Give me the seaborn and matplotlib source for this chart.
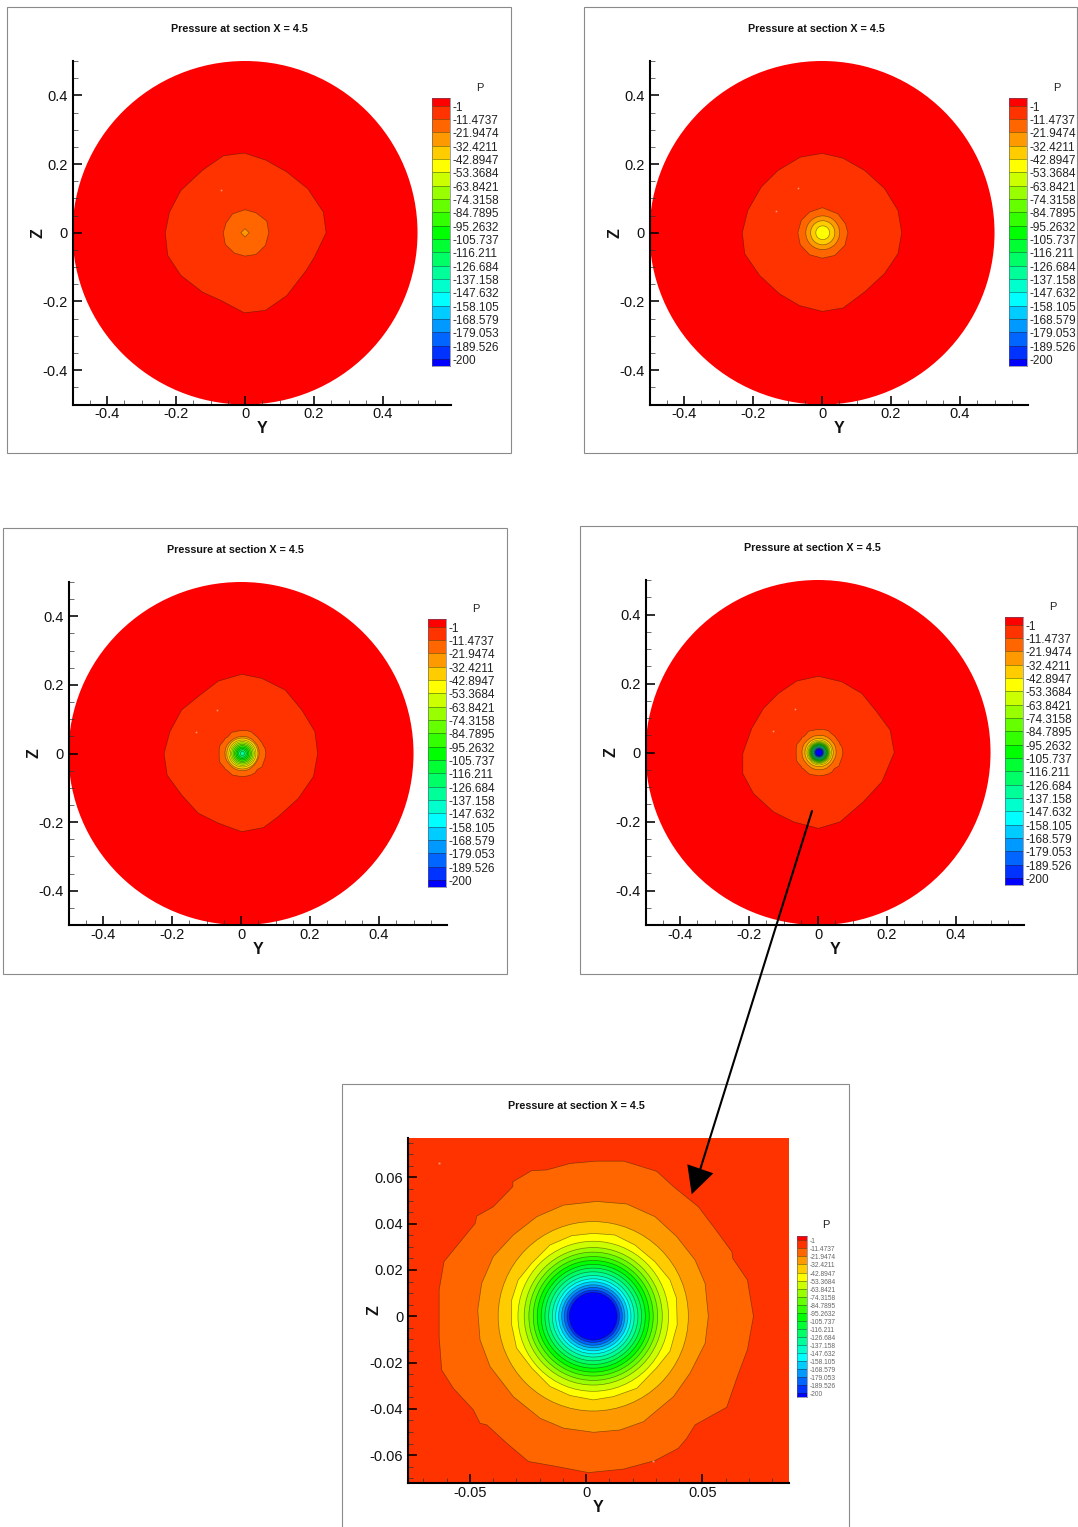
import matplotlib
matplotlib.use("Agg")
import matplotlib.pyplot as plt
from matplotlib.colors import ListedColormap
from matplotlib.lines import Line2D
from matplotlib.patches import Circle, Polygon, Rectangle
from matplotlib.ticker import MultipleLocator
from matplotlib.transforms import ScaledTranslation
import numpy as np
import seaborn as sns

W, H = 1078, 1527
TITLE = "Pressure at section X = 4.5"
LEVELS = [-1, -11.4737, -21.9474, -32.4211, -42.8947, -53.3684, -63.8421, -74.3158, -84.7895, -95.2632,
          -105.737, -116.211, -126.684, -137.158, -147.632, -158.105, -168.579, -179.053, -189.526, -200]
LEVEL_LABELS = ["-1", "-11.4737", "-21.9474", "-32.4211", "-42.8947", "-53.3684", "-63.8421", "-74.3158",
                "-84.7895", "-95.2632", "-105.737", "-116.211", "-126.684", "-137.158", "-147.632", "-158.105",
                "-168.579", "-179.053", "-189.526", "-200"]
BANDS = ["#ff0000", "#ff3300", "#ff6600", "#ff9900", "#ffcc00", "#ffff00", "#ccff00", "#99ff00", "#66ff00",
         "#33ff00", "#00ff00", "#00ff33", "#00ff66", "#00ff99", "#00ffcc", "#00ffff", "#00ccff", "#0099ff",
         "#0066ff", "#0033ff", "#0000ff"]

# outer contour (level -1) of each full-section panel
A_Y = [-.002, -.063, -.123, -.186, -.219, -.231, -.224, -.186, -.123, -.070, -.002, .059, .121, .177, .201, .235, .227, .182, .121, .061]
A_Z = [.232, .224, .182, .123, .060, 0, -.066, -.124, -.173, -.197, -.233, -.226, -.183, -.110, -.071, 0, .060, .128, .177, .211]
B_Y = [.001, -.063, -.128, -.176, -.215, -.231, -.224, -.181, -.123, -.065, .001, .061, .124, .181, .220, .231, .220, .181, .124, .061]
B_Z = [.231, .220, .181, .133, .065, 0, -.061, -.124, -.178, -.212, -.229, -.219, -.172, -.119, -.061, 0, .065, .129, .181, .217]
C_Y = [.002, -.066, -.119, -.172, -.206, -.223, -.214, -.172, -.124, -.066, .002, .065, .108, .166, .210, .222, .214, .176, .128, .060]
C_Z = [.231, .211, .170, .127, .064, 0, -.063, -.121, -.174, -.203, -.228, -.216, -.184, -.131, -.067, 0, .064, .127, .185, .219]
D_Y = [.001, -.062, -.115, -.158, -.192, -.218, -.218, -.187, -.129, -.071, .001, .064, .131, .185, .221, .209, .170, .127, .069]
D_Z = [.221, .207, .171, .128, .070, -.003, -.061, -.119, -.172, -.201, -.220, -.201, -.143, -.085, 0, .065, .118, .171, .205]

# panel 1 and panel 2 inner contours
A2_Y = [0, -.036, -.055, -.063, -.057, -.031, 0, .032, .059, .069, .063, .032]
A2_Z = [.067, .055, .028, 0, -.034, -.059, -.068, -.063, -.037, 0, .034, .058]
A3_Y = [0, .012, 0, -.012]
A3_Z = [.012, 0, -.012, 0]
B2_Y = [.001, .046, .068, .075, .066, .037, .001, -.036, -.063, -.070, -.060, -.036]
B2_Z = [.073, .055, .026, 0, -.037, -.066, -.074, -.064, -.035, 0, .036, .060]

# zoomed-section contours
E1_Y = [.0043, .0163, .0304, .0376, .0483, .0548, .0627, .0631, .0694, .0720, .0694, .0651, .0605, .0469, .0433, .0397, .0297, .0161, .0010,
        -.0141, -.0248, -.0341, -.0427, -.0456, -.0485, -.0571, -.0621, -.0632, -.0632, -.0611, -.0477, -.0470, -.0399, -.0315, -.0315, -.0234, -.0169, -.0069]
E1_Z = [.0670, .0670, .0626, .0560, .0473, .0387, .0279, .0250, .0157, 0, -.0145, -.0260, -.0393, -.0469, -.0527, -.0570, -.0623, -.0660, -.0675,
        -.0646, -.0627, -.0548, -.0469, -.0462, -.0404, -.0311, -.0232, -.0088, .0114, .0236, .0401, .0433, .0473, .0560, .0581, .0629, .0632, .0660]
E2_Y = [.0046, .0175, .0297, .0390, .0469, .0512, .0526, .0512, .0447, .0376, .0247, .0146, .0032, -.0097, -.0198, -.0313, -.0413, -.0456, -.0466, -.0449, -.0399, -.0313, -.0212, -.0097]
E2_Z = [.0496, .0485, .0430, .0344, .0243, .0142, 0, -.0117, -.0246, -.0347, -.0455, -.0491, -.0501, -.0483, -.0440, -.0347, -.0217, -.0102, .0027, .0142, .0258, .0351, .0430, .0480]
E4_Y = [.0031, .0124, .0210, .0296, .0361, .0389, .0392, .0361, .0303, .0218, .0117, .0031, -.0069, -.0155, -.0234, -.0299, -.0320, -.0320, -.0292, -.0234, -.0155, -.0062]
E4_Z = [.0358, .0351, .0308, .0236, .0157, .0078, -.0037, -.0151, -.0223, -.0311, -.0347, -.0361, -.0342, -.0303, -.0223, -.0137, -.0037, .0070, .0157, .0229, .0308, .0348]

# contour radius for each level, level index given by position
CORE_Y = .0031
E_R3 = .0409
E_RADII = [.0324, .0297, .0277, .0258, .0241, .0224, .0208, .0192, .0176, .0162, .0149, .0136, .0125, .0113, .0103]
B_RADII = [.049, .035, .020]
C_RADII = [.045, .039, .035, .031, .027, .023, .019, .015, .011, .006]

SPECK_Y = [[-.069], [-.071, -.132], [-.07, -.13], [-.068, -.13]]
SPECK_Z = [[.125], [.13, .063], [.127, .063], [.126, .063]]
E_SPECK_Y = [-.0631, .0287]
E_SPECK_Z = [.066, -.0624]

FULL_XTICKS = [-.4, -.2, 0, .2, .4]
FULL_XLABELS = ["-0.4", "-0.2", "0", "0.2", "0.4"]
ZOOM_XTICKS = [-.05, 0, .05]
ZOOM_XLABELS = ["-0.05", "0", "0.05"]
ZOOM_YTICKS = [-.06, -.04, -.02, 0, .02, .04, .06]
ZOOM_YLABELS = ["-0.06", "-0.04", "-0.02", "0", "0.02", "0.04", "0.06"]

sns.set_theme(style="white")
plt.rcParams["font.family"] = ["Liberation Sans", "DejaVu Sans"]
palette = sns.color_palette(BANDS).as_hex()
EDGE = (0.12, 0.1, 0, 0.5)


def px_axes(fig, l, t, r, b):
    return fig.add_axes([l / W, 1 - b / H, (r - l) / W, (b - t) / H])


def poly(ax, y, z, band):
    ax.add_patch(Polygon(np.column_stack([y, z]), closed=True, fc=palette[band], ec=EDGE, lw=0.5, zorder=2))


def ring(ax, cy, r, band):
    ax.add_patch(Circle((cy, 0), r, fc=palette[band], ec=EDGE, lw=0.5, zorder=2))


def style_axes(ax, xlim, ylim, xt, xl, yt, yl, xminor, yminor):
    ax.set_xlim(*xlim)
    ax.set_ylim(*ylim)
    ax.set_xticks(xt, xl)
    ax.set_yticks(yt, yl)
    ax.xaxis.set_minor_locator(MultipleLocator(xminor))
    ax.yaxis.set_minor_locator(MultipleLocator(yminor))
    sns.despine(ax=ax)
    for s in ("left", "bottom"):
        ax.spines[s].set_linewidth(1.5)
        ax.spines[s].set_color("black")
        ax.spines[s].set_zorder(6)
    ax.tick_params(which="major", direction="in", length=6.6, width=1.15, color="black", labelsize=10.5, labelcolor="#111111", bottom=True, left=True, zorder=5)
    ax.tick_params(which="minor", direction="in", length=3.4, width=0.5, color="#333333", bottom=True, left=True, zorder=5)
    ax.tick_params(axis="x", which="major", pad=2)
    ax.tick_params(axis="y", which="major", pad=3.4)
    ax.set_axisbelow(False)
    ax.set_xlabel("Y", fontsize=11.5, fontweight="bold", color="#111111", va="center")
    ax.set_ylabel("Z", fontsize=11.5, fontweight="bold", color="#111111", va="center")
    ax.xaxis.set_label_coords(0.5, -0.071)
    ax.yaxis.set_label_coords(-0.09, 0.5)
    ax.set_title(TITLE, x=0.441, y=1.093, va="center", pad=0, fontsize=7.75, fontweight="bold", color="#111111")


def legend(fig, l, t, r, b, size, color, psize):
    lax = px_axes(fig, l, t, r, b)
    edges = [4.8] + LEVELS + [-205.5]
    cmap = ListedColormap(palette)
    lax.pcolormesh([0, 1], edges, np.arange(len(palette)).reshape(-1, 1), cmap=cmap, shading="flat")
    lax.hlines(LEVELS, 0, 1, color=(0.15, 0.15, 0.1, 0.6), lw=0.5)
    lax.set_xlim(0, 1)
    lax.set_ylim(-205.5, 4.8)
    lax.set_xticks([])
    lax.yaxis.tick_right()
    lax.set_yticks(LEVELS, LEVEL_LABELS)
    lax.tick_params(axis="y", length=0, pad=1.6, labelsize=size, labelcolor=color)
    shift = ScaledTranslation(0, -0.5 / 100, fig.dpi_scale_trans)
    for lab in lax.get_yticklabels():
        lab.set_transform(lab.get_transform() + shift)
    for s in lax.spines.values():
        s.set_linewidth(0.4)
        s.set_color("#555577")
    lax.set_title("P", x=(48 / 18 if r - l > 15 else 2.76), y=1 + 10.5 / (b - t), va="center", pad=0, fontsize=psize, color="#222222")


fig = plt.figure(figsize=(W / 100, H / 100), dpi=100, facecolor="white")

FULL_AXES = [(72.5, 61, 451, 404.5), (649.5, 61, 1028, 404.5), (68.5, 582, 447, 925), (645.5, 580, 1024, 925)]
for i, (l, t, r, b) in enumerate(FULL_AXES):
    ax = px_axes(fig, l, t, r, b)
    ax.set_facecolor("white")
    ax.add_patch(Circle((0, 0), 0.5, fc=palette[0], ec="none", zorder=1, clip_on=False))
    if i == 0:
        poly(ax, A_Y, A_Z, 1)
        poly(ax, A2_Y, A2_Z, 2)
        poly(ax, A3_Y, A3_Z, 3)
    elif i == 1:
        poly(ax, B_Y, B_Z, 1)
        poly(ax, B2_Y, B2_Z, 2)
        for k, rad in enumerate(B_RADII):
            ring(ax, .002, rad, 3 + k)
    elif i == 2:
        poly(ax, C_Y, C_Z, 1)
        poly(ax, E1_Y, E1_Z, 2)
        poly(ax, E2_Y, E2_Z, 3)
        for k, rad in enumerate(C_RADII):
            ring(ax, .004, rad, 4 + k)
    else:
        poly(ax, D_Y, D_Z, 1)
        poly(ax, E1_Y, E1_Z, 2)
        poly(ax, E2_Y, E2_Z, 3)
        ring(ax, CORE_Y, E_R3, 4)
        poly(ax, E4_Y, E4_Z, 5)
        for k, rad in enumerate(E_RADII):
            ring(ax, CORE_Y, rad, 6 + k)
    ax.plot(SPECK_Y[i], SPECK_Z[i], ls="none", marker="s", ms=1.1, mew=0, color="#ffa080", zorder=3)
    style_axes(ax, (-.5, .597), (-.5, .5), FULL_XTICKS, FULL_XLABELS, FULL_XTICKS, FULL_XLABELS, .05, .05)
    legend(fig, l + 359.5, t + 37.3, l + 377.5, t + 305, 8.5, "#222222", 8)

# zoomed panel
ax = px_axes(fig, 408, 1138, 789, 1483)
ax.set_facecolor(palette[1])
poly(ax, E1_Y, E1_Z, 2)
poly(ax, E2_Y, E2_Z, 3)
ring(ax, CORE_Y, E_R3, 4)
poly(ax, E4_Y, E4_Z, 5)
for k, rad in enumerate(E_RADII):
    ring(ax, CORE_Y, rad, 6 + k)
ax.plot(E_SPECK_Y, E_SPECK_Z, ls="none", marker="s", ms=1.3, mew=0, color="#ffa080", zorder=3)
style_axes(ax, (-.0766, .0873), (-.072, .077), ZOOM_XTICKS, ZOOM_XLABELS, ZOOM_YTICKS, ZOOM_YLABELS, .01, .005)
ax.spines["top"].set_visible(False)
legend(fig, 797, 1236, 807.5, 1397, 4.8, "#666666", 8)

# overlay: panel frames and the call-out arrow, in figure pixels
ov = fig.add_axes([0, 0, 1, 1], zorder=20)
ov.set_xlim(0, W)
ov.set_ylim(H, 0)
ov.axis("off")
ov.patch.set_visible(False)
FRAMES = [(7, 7, 511, 453), (584, 7, 1077, 453), (3, 528, 507, 974), (580, 526, 1077, 974), (342, 1084, 849, 1528)]
for x0, y0, x1, y1 in FRAMES:
    ov.add_patch(Rectangle((x0, y0), x1 - x0, y1 - y0, fill=False, ec="#8a8a8a", lw=0.8))
ov.add_line(Line2D([812, 700], [811, 1170], color="black", lw=1.5))
ov.add_patch(Polygon([(687.3, 1164.3), (713.3, 1173.3), (691.7, 1194.3)], closed=True, fc="black", ec="none"))

fig.savefig("out.png", dpi=100, facecolor="white")
